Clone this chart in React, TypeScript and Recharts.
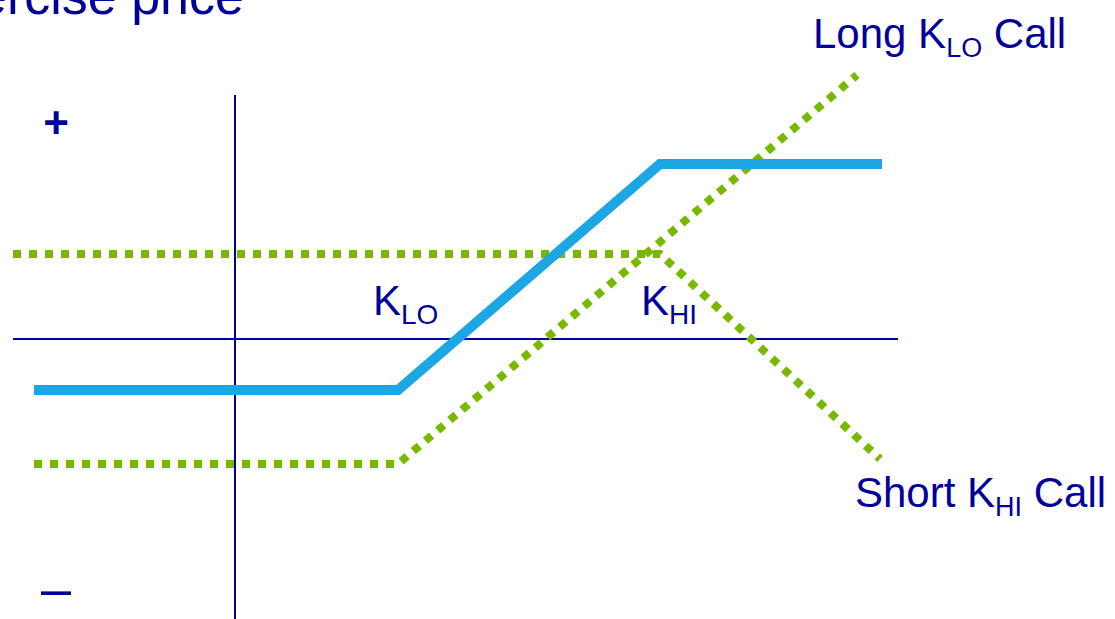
import { LineChart, Line, XAxis, YAxis, ReferenceLine } from 'recharts';

// payoff diagram, units: 1 = 10px, price 0 at the vertical axis, payoff 0 at the horizontal axis
const prices = [-22.2, -20.1, 16.3, 42.5, 62.2, 64.5, 64.7];
const spread = [null, -5.1, -5.1, 17.5, null, null, 17.5];
const longCall = [null, -12.5, -12.5, null, 26.4, null, null];
const shortCall = [8.5, null, null, 8.5, null, -12.0, null];

const data = prices.map((x, i) => ({
  x,
  spread: spread[i],
  longCall: longCall[i],
  shortCall: shortCall[i],
}));

const xDomain = [-23.5, 88];
const yDomain = [-28, 33.9];

const NAVY = '#000099';
const BLUE = '#1CA6E3';
const GREEN = '#7AB800';

const font = '"Liberation Sans", Arial, sans-serif';

export default function App() {
  return (
    <div style={{ position: 'absolute', left: 0, top: 0, width: 1115, height: 619, background: '#fff', overflow: 'hidden' }}>
      <LineChart width={1115} height={619} data={data} margin={{ top: 0, right: 0, bottom: 0, left: 0 }}>
        <XAxis type="number" dataKey="x" domain={xDomain} hide allowDataOverflow />
        <YAxis type="number" domain={yDomain} hide allowDataOverflow />
        <ReferenceLine
          segment={[{ x: 0, y: 24.4 }, { x: 0, y: -28 }]}
          stroke={NAVY}
          strokeWidth={2}
        />
        <ReferenceLine
          segment={[{ x: -22.2, y: 0 }, { x: 66.3, y: 0 }]}
          stroke={NAVY}
          strokeWidth={2}
        />
        <Line
          dataKey="shortCall"
          type="linear"
          stroke={GREEN}
          strokeWidth={8}
          strokeDasharray="8 8"
          connectNulls
          dot={false}
          activeDot={false}
          isAnimationActive={false}
        />
        <Line
          dataKey="longCall"
          type="linear"
          stroke={GREEN}
          strokeWidth={8}
          strokeDasharray="8 8"
          connectNulls
          dot={false}
          activeDot={false}
          isAnimationActive={false}
        />
        <Line
          dataKey="spread"
          type="linear"
          stroke={BLUE}
          strokeWidth={10}
          connectNulls
          dot={false}
          activeDot={false}
          isAnimationActive={false}
        />
      </LineChart>

      <svg
        width={1115}
        height={619}
        style={{ position: 'absolute', left: 0, top: 0, pointerEvents: 'none' }}
        fontFamily={font}
        fill={NAVY}
      >
        <text x={-22} y={14} fontSize={52}>ercise price</text>
        <text x={813} y={48} fontSize={42}>
          Long K<tspan fontSize={27} dy={9}>LO</tspan>
          <tspan dy={-9}> Call</tspan>
        </text>
        <text x={855} y={507} fontSize={42}>
          Short K<tspan fontSize={27} dy={9}>HI</tspan>
          <tspan dy={-9}> Call</tspan>
        </text>
        <text x={373} y={315} fontSize={42}>
          K<tspan fontSize={28} dy={9}>LO</tspan>
        </text>
        <text x={641} y={315} fontSize={42}>
          K<tspan fontSize={28} dy={9}>HI</tspan>
        </text>
        <text x={56} y={138} fontSize={44} fontWeight="bold" textAnchor="middle">+</text>
        <text x={56} y={607} fontSize={54} textAnchor="middle">–</text>
      </svg>
    </div>
  );
}
